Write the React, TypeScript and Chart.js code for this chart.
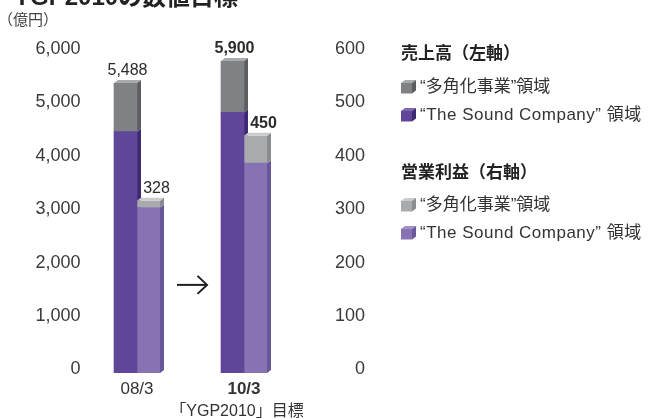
import React, { useEffect, useRef } from 'react';
import { Chart, registerables } from 'chart.js';

Chart.register(...registerables);

// ---- data ----
const categories = ['08/3', '10/3'];
const salesTSC = [4520, 4880]; // "The Sound Company" 領域 (left axis)
const salesDiv = [968, 1020]; // "多角化事業" 領域 (left axis)
const opTSC = [310, 393]; // "The Sound Company" 領域 (right axis)
const opDiv = [18, 57]; // "多角化事業" 領域 (right axis)
const leftTicks = ['0', '1,000', '2,000', '3,000', '4,000', '5,000', '6,000'];
const rightTicks = ['0', '100', '200', '300', '400', '500', '600'];

const titleText = 'YGP2010の数値目標';
const unitText = '（億円）';
const subLabel = '「YGP2010」目標';
const legendSalesTitle = '売上高（左軸）';
const legendOpTitle = '営業利益（右軸）';
const legendDiv = '“多角化事業”領域';
const legendTSC = '“The Sound Company” 領域';

const FONT = '"Liberation Sans", "Noto Sans CJK JP", Arial, sans-serif';
const DX = 4;
const DY = 3;

const COLORS = {
  salesTSC: { front: '#5f4699', side: '#3e2a72', top: '#7d68b0' },
  salesDiv: { front: '#808184', side: '#5c5d60', top: '#a9aaac' },
  opTSC: { front: '#8773b3', side: '#68579a', top: '#a090c4' },
  opDiv: { front: '#a9aaac', side: '#8b8c8e', top: '#cacbcd' },
};

const fmt = (v: number) => v.toLocaleString('en-US');

function geom(el: any) {
  const p = el.getProps(['x', 'y', 'base', 'width'], true);
  return { left: p.x - p.width / 2, right: p.x + p.width / 2, x: p.x, y: p.y, base: p.base, width: p.width };
}

function drawFaces(chart: any, indices: number[]) {
  const ctx = chart.ctx;
  for (const di of indices) {
    const ds: any = chart.data.datasets[di];
    const meta = chart.getDatasetMeta(di);
    meta.data.forEach((el: any) => {
      const g = geom(el);
      const ft = ds.isTop ? g.y + DY : g.y;
      ctx.fillStyle = ds.sideColor;
      ctx.beginPath();
      ctx.moveTo(g.right, ft);
      ctx.lineTo(g.right + DX, ft - DY);
      ctx.lineTo(g.right + DX, g.base - DY);
      ctx.lineTo(g.right, g.base);
      ctx.closePath();
      ctx.fill();
      if (ds.isTop) {
        ctx.fillStyle = ds.topColor;
        ctx.beginPath();
        ctx.moveTo(g.left, g.y + DY);
        ctx.lineTo(g.right, g.y + DY);
        ctx.lineTo(g.right + DX, g.y);
        ctx.lineTo(g.left + DX, g.y);
        ctx.closePath();
        ctx.fill();
      }
    });
  }
}

const bars3d = {
  id: 'bars3d',
  beforeDatasetsDraw(chart: any) {
    drawFaces(chart, [0, 1]);
  },
  beforeDatasetDraw(chart: any, args: any) {
    const ds: any = chart.data.datasets[args.index];
    if (!ds.isTop) return;
    const ctx = chart.ctx;
    ctx.save();
    ctx.beginPath();
    ctx.rect(0, 0, chart.width, chart.height);
    args.meta.data.forEach((el: any) => {
      const g = geom(el);
      ctx.rect(g.left - 1, g.y - 1, g.width + 2, DY + 1);
    });
    ctx.clip('evenodd');
  },
  afterDatasetDraw(chart: any, args: any) {
    const ds: any = chart.data.datasets[args.index];
    if (!ds.isTop) return;
    chart.ctx.restore();
  },
  afterDatasetsDraw(chart: any) {
    drawFaces(chart, [2, 3]);
    const ctx = chart.ctx;
    // value labels on top of each stack
    const drawLabels = (topIdx: number, a: number[], b: number[], shift: number) => {
      chart.getDatasetMeta(topIdx).data.forEach((el: any, i: number) => {
        const g = geom(el);
        ctx.save();
        ctx.fillStyle = '#2b2b2b';
        ctx.font = `${i === 1 ? 'bold ' : ''}16px ${FONT}`;
        ctx.textAlign = 'center';
        ctx.textBaseline = 'alphabetic';
        ctx.fillText(fmt(a[i] + b[i]), g.x + DX / 2 + shift, g.y - 5);
        ctx.restore();
      });
    };
    drawLabels(1, salesTSC, salesDiv, 0);
    drawLabels(3, opTSC, opDiv, 6);
    // arrow between the two periods
    const xs = chart.scales.x;
    const ys = chart.scales.y;
    const cx = (xs.getPixelForValue(0) + xs.getPixelForValue(1)) / 2 + 1.5;
    const cy = ys.getPixelForValue(1650);
    ctx.save();
    ctx.strokeStyle = '#1e1e1e';
    ctx.lineWidth = 2;
    ctx.lineCap = 'butt';
    ctx.lineJoin = 'miter';
    ctx.beginPath();
    ctx.moveTo(cx - 15, cy);
    ctx.lineTo(cx + 15, cy);
    ctx.stroke();
    ctx.beginPath();
    ctx.moveTo(cx + 5.5, cy - 9);
    ctx.lineTo(cx + 15, cy);
    ctx.lineTo(cx + 5.5, cy + 9);
    ctx.stroke();
    ctx.restore();
  },
};

function Cube({ c, top }: { c: { front: string; side: string; top: string }; top: number }) {
  return (
    <svg width={16} height={14} style={{ position: 'absolute', left: 401, top }}>
      <polygon points="0,3 11,3 15,0 4,0" fill={c.top} />
      <rect x={0} y={3} width={11} height={10.5} fill={c.front} />
      <polygon points="11,3 15,0 15,10.5 11,13.5" fill={c.side} />
    </svg>
  );
}

export default function App() {
  const ref = useRef<HTMLCanvasElement | null>(null);

  useEffect(() => {
    if (!ref.current) return;
    const chart = new Chart(ref.current, {
      type: 'bar',
      data: {
        labels: categories,
        datasets: [
          {
            label: legendTSC,
            data: salesTSC,
            yAxisID: 'y',
            stack: 'sales',
            backgroundColor: COLORS.salesTSC.front,
            sideColor: COLORS.salesTSC.side,
            isTop: false,
          } as any,
          {
            label: legendDiv,
            data: salesDiv,
            yAxisID: 'y',
            stack: 'sales',
            backgroundColor: COLORS.salesDiv.front,
            sideColor: COLORS.salesDiv.side,
            topColor: COLORS.salesDiv.top,
            isTop: true,
          } as any,
          {
            label: legendTSC,
            data: opTSC,
            yAxisID: 'y1',
            stack: 'op',
            backgroundColor: COLORS.opTSC.front,
            sideColor: COLORS.opTSC.side,
            isTop: false,
          } as any,
          {
            label: legendDiv,
            data: opDiv,
            yAxisID: 'y1',
            stack: 'op',
            backgroundColor: COLORS.opDiv.front,
            sideColor: COLORS.opDiv.side,
            topColor: COLORS.opDiv.top,
            isTop: true,
          } as any,
        ],
      },
      options: {
        responsive: false,
        animation: false,
        events: [],
        layout: { padding: { top: 52.6, right: 287, bottom: 0, left: 0 } },
        datasets: { bar: { barThickness: 23, borderWidth: 0 } } as any,
        plugins: { legend: { display: false }, tooltip: { enabled: false } },
        scales: {
          x: {
            stacked: true,
            grid: { display: false, drawTicks: false },
            border: { display: false },
            ticks: {
              padding: 6,
              color: '#333',
              font: (c: any) => ({ family: FONT, size: 17, weight: c.index === 1 ? 'bold' : 'normal' }),
            },
            afterFit: (s: any) => {
              s.height = 46;
            },
          },
          y: {
            position: 'left',
            stacked: true,
            min: 0,
            max: 6000,
            grid: { display: false, drawTicks: false },
            border: { display: false },
            ticks: {
              stepSize: 1000,
              padding: 3,
              labelOffset: -3.5,
              color: '#3a3a3a',
              font: { family: FONT, size: 18 },
              callback: (_v: any, i: number) => leftTicks[i],
            },
            afterFit: (s: any) => {
              s.width = 83.5;
            },
          },
          y1: {
            position: 'right',
            stacked: true,
            min: 0,
            max: 600,
            grid: { display: false, drawTicks: false },
            border: { display: false },
            ticks: {
              stepSize: 100,
              crossAlign: 'far',
              labelOffset: -3.5,
              color: '#3a3a3a',
              font: { family: FONT, size: 18 },
              callback: (_v: any, i: number) => rightTicks[i],
            },
            afterFit: (s: any) => {
              s.width = 67.5;
            },
          },
        },
      } as any,
      plugins: [bars3d],
    });
    return () => chart.destroy();
  }, []);

  const txt: React.CSSProperties = {
    position: 'absolute',
    fontFamily: FONT,
    fontSize: 17,
    lineHeight: '20px',
    color: '#333',
    whiteSpace: 'nowrap',
  };

  return (
    <div
      style={{
        position: 'fixed',
        left: 0,
        top: 0,
        width: 652,
        height: 419,
        background: '#fff',
        overflow: 'hidden',
      }}
    >
      <canvas ref={ref} width={652} height={419} style={{ position: 'absolute', left: 0, top: 0, display: 'block' }} />
      <div style={{ ...txt, left: 14, top: -15, fontSize: 24, lineHeight: '24px', fontWeight: 'bold', color: '#222' }}>
        {titleText}
      </div>
      <div style={{ ...txt, left: -2, top: 10, fontSize: 15, color: '#444' }}>{unitText}</div>
      <div style={{ ...txt, left: 167, width: 140, textAlign: 'center', top: 401, fontSize: 16 }}>{subLabel}</div>

      <div style={{ ...txt, left: 401, top: 44, fontWeight: 'bold', color: '#222' }}>{legendSalesTitle}</div>
      <Cube c={COLORS.salesDiv} top={80} />
      <div style={{ ...txt, left: 420, top: 77 }}>{legendDiv}</div>
      <Cube c={COLORS.salesTSC} top={108} />
      <div style={{ ...txt, left: 420, top: 105, letterSpacing: 0.5 }}>{legendTSC}</div>

      <div style={{ ...txt, left: 401, top: 163, fontWeight: 'bold', color: '#222' }}>{legendOpTitle}</div>
      <Cube c={COLORS.opDiv} top={198} />
      <div style={{ ...txt, left: 420, top: 195 }}>{legendDiv}</div>
      <Cube c={COLORS.opTSC} top={226} />
      <div style={{ ...txt, left: 420, top: 223, letterSpacing: 0.5 }}>{legendTSC}</div>
    </div>
  );
}
